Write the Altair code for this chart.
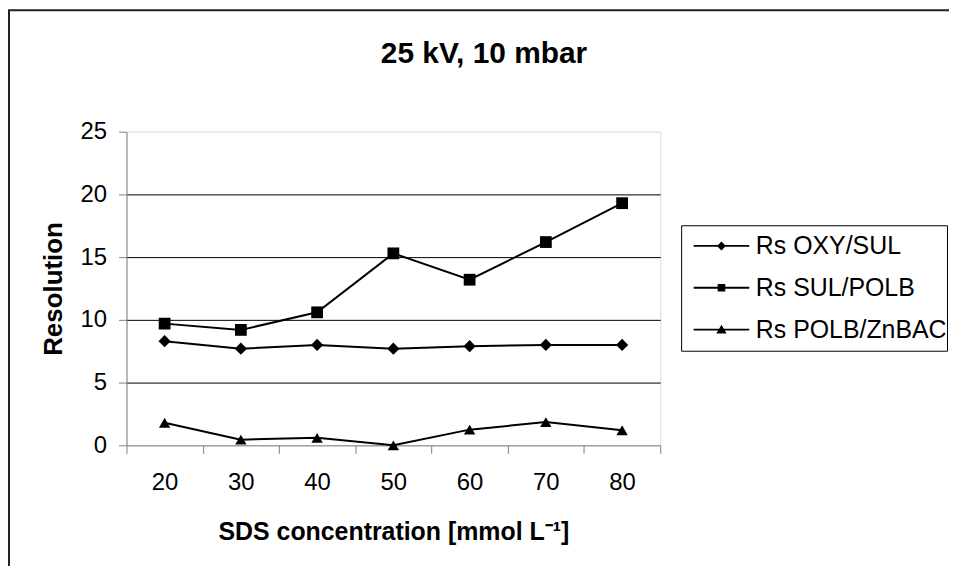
import altair as alt
import pandas as pd

concentrations = [20, 30, 40, 50, 60, 70, 80]
series_names = ["Rs OXY/SUL", "Rs SUL/POLB", "Rs POLB/ZnBAC"]
rs_oxy_sul = [8.3, 7.7, 8.0, 7.7, 7.9, 8.0, 8.0]
rs_sul_polb = [9.7, 9.2, 10.6, 15.3, 13.2, 16.2, 19.3]
rs_polb_znbac = [1.8, 0.45, 0.6, 0.0, 1.25, 1.85, 1.2]
y_ticks = [0, 5, 10, 15, 20, 25]
marker_shapes = ["diamond", "square", "triangle-up"]
marker_sizes = [150, 130, 165]
# legend symbols (filled outlines): a thin line with the series marker in its middle
legend_symbols = [
    "M-6.2,-0.2H6.2V0.2H-6.2ZM0,-1L1,0L0,1L-1,0Z",
    "M-6.2,-0.2H6.2V0.2H-6.2ZM-0.85,-0.85H0.85V0.85H-0.85Z",
    "M-6.2,-0.2H6.2V0.2H-6.2ZM0,-1.1L1.15,0.9H-1.15Z",
]

marker_keys = ["marker " + n for n in series_names]

rows = []
for name, key, vals in zip(series_names, marker_keys, [rs_oxy_sul, rs_sul_polb, rs_polb_znbac]):
    for c, v in zip(concentrations, vals):
        rows.append({"conc": str(c), "value": v, "series": name, "series_m": key})
df = pd.DataFrame(rows)

W, H = 536, 315
FONT = "Liberation Sans"
cats = [str(c) for c in concentrations]

x_enc = alt.X(
    "conc:O", sort=cats,
    scale=alt.Scale(type="band", paddingInner=0, paddingOuter=0),
    bandPosition=0.5,
    axis=alt.Axis(
        title="SDS concentration [mmol L⁻¹]", labelAngle=0, tickBand="extent",
        tickSize=8, labelPadding=17, labelFontSize=24, titleFontSize=25,
        titleFontWeight="bold", titlePadding=26, domainColor="#808080",
        tickColor="#808080", grid=False,
    ),
)
y_enc = alt.Y(
    "value:Q",
    scale=alt.Scale(domain=[0, 25], nice=False),
    axis=alt.Axis(
        values=y_ticks, title="Resolution", tickSize=8, labelPadding=12,
        labelFontSize=24, titleFontSize=26, titleFontWeight="bold",
        titlePadding=14, domainColor="#808080", tickColor="#808080",
        gridColor={"condition": {"test": "datum.value === 25 || datum.value === 0",
                                 "value": "#e6e6e6"}, "value": "#000000"},
        gridWidth=1,
    ),
)

base = alt.Chart(df)

lines = base.mark_line(strokeWidth=2, color="black").encode(
    x=x_enc, y=y_enc,
    detail="series:N",
)

points = base.mark_point(filled=True, color="black", opacity=1).encode(
    x=x_enc, y=y_enc,
    shape=alt.Shape("series_m:N",
                    scale=alt.Scale(domain=marker_keys, range=marker_shapes),
                    legend=None),
    size=alt.Size("series_m:N", scale=alt.Scale(domain=marker_keys, range=marker_sizes),
                  legend=None),
)

legend_carrier = base.mark_point(filled=True, fill="black", opacity=0).encode(
    x=x_enc, y=y_enc,
    shape=alt.Shape(
        "series:N",
        scale=alt.Scale(domain=series_names, range=legend_symbols),
        legend=alt.Legend(
            title=None, orient="none", legendX=557, legendY=94,
            symbolSize=81, symbolOpacity=1, symbolFillColor="black",
            symbolStrokeWidth=0,
            symbolOffset=28, labelOffset=22, labelFontSize=25, labelFont=FONT,
            labelColor="black", clipHeight=41.5, rowPadding=0, padding=0,
            strokeColor="black", labelLimit=600,
            labelExpr="datum.label + '\u00a0\u00a0\u00a0\u00a0\u00a0'",
        ),
    ),
)

border = alt.Chart(pd.DataFrame({"k": [0]})).mark_rect(
    filled=False, stroke="#222222", strokeWidth=2, clip=False
).encode(
    x=alt.value(-118), x2=alt.value(W + 400),
    y=alt.value(-122), y2=alt.value(H + 400),
)

chart = alt.layer(border, lines, points, legend_carrier).resolve_scale(
    shape="independent", size="independent"
).properties(
    width=W, height=H,
    title=alt.TitleParams("25 kV, 10 mbar", fontSize=30, fontWeight="bold", font=FONT,
                          anchor="middle", dx=91, offset=-60, color="black"),
    autosize=alt.AutoSizeParams(type="none"),
    padding={"left": 119, "top": 123, "right": 290, "bottom": 120},
).configure_view(stroke=None).configure_axis(
    labelFont=FONT, titleFont=FONT, labelColor="black", titleColor="black"
).configure(background="white")

chart.save("out.html", embed_options={"renderer": "svg", "actions": False})
